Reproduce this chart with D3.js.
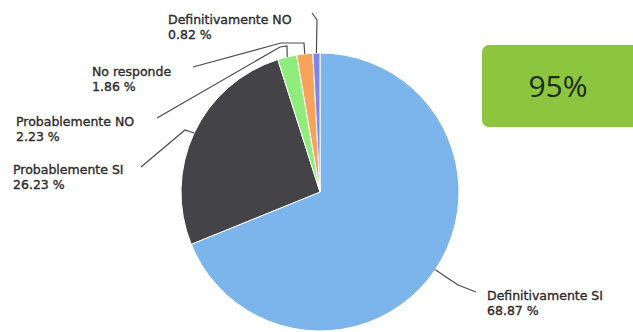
<!DOCTYPE html>
<html>
<head>
<meta charset="utf-8">
<script src="https://cdn.jsdelivr.net/npm/d3@7/dist/d3.min.js"></script>
<style>
  html, body { margin: 0; padding: 0; background: #fff; }
  svg { display: block; }
</style>
</head>
<body>
<svg id="chart"></svg>
<script>
/* ── Data ── */
const categories = ['Definitivamente SI', 'Probablemente SI', 'Probablemente NO', 'No responde', 'Definitivamente NO'];
const shares     = [68.87, 26.23, 2.23, 1.86, 0.82];
const colors     = ['#7cb5ec', '#434348', '#90ed7d', '#f7a35c', '#8085e9'];
const badgeText  = '95%';

/* ── Layout ── */
const W = 633, H = 332;
const CX = 320, CY = 192, R = 139;
const FONT = '"DejaVu Sans", Verdana, sans-serif';

/* label anchor + connector bends after the slice edge point */
const labelLayout = [
  { x: 487, y: 300, bends: [[458, 285], [476, 292]] },
  { x: 13,  y: 174, bends: [[185, 130], [141, 167]] },
  { x: 16,  y: 126, bends: [[287, 46], [280, 47], [157, 118]] },
  { x: 92,  y: 76,  bends: [[304, 43], [281, 43], [193, 67]] },
  { x: 168, y: 24,  bends: [[317, 20], [312, 13]] }
];

const svg = d3.select('#chart')
  .attr('width', W)
  .attr('height', H)
  .attr('viewBox', `0 0 ${W} ${H}`);

const pieData = d3.pie().sort(null).value(d => d)(shares);
const arc  = d3.arc().innerRadius(0).outerRadius(R);
const edge = d3.arc().innerRadius(R).outerRadius(R);

const g = svg.append('g').attr('transform', `translate(${CX},${CY})`);

/* ── Slices ── */
g.selectAll('path.slice')
  .data(pieData)
  .join('path')
  .attr('class', 'slice')
  .attr('d', arc)
  .attr('fill', (d, i) => colors[i])
  .attr('stroke', '#fff')
  .attr('stroke-width', 1);

/* ── Connectors ── */
const line = d3.line().curve(d3.curveLinear);
pieData.forEach((d, i) => {
  const [ex, ey] = edge.centroid(d);
  const pts = [[CX + ex, CY + ey], ...labelLayout[i].bends];
  svg.append('path')
    .attr('d', line(pts))
    .attr('fill', 'none')
    .attr('stroke', '#4a4a4a')
    .attr('stroke-width', 1.2);
});

/* ── Labels ── */
categories.forEach((name, i) => {
  const L = labelLayout[i];
  const t = svg.append('text')
    .attr('x', L.x)
    .attr('y', L.y)
    .attr('fill', '#2b2b2b')
    .attr('stroke', '#2b2b2b')
    .attr('stroke-width', 0.35)
    .attr('font-size', 12.5)
    .attr('font-family', FONT);
  t.append('tspan').attr('x', L.x).text(name);
  t.append('tspan').attr('x', L.x).attr('dy', 15)
    .text(shares[i].toFixed(2) + ' %');
});

/* ── Badge ── */
svg.append('rect')
  .attr('x', 482).attr('y', 45)
  .attr('width', 160).attr('height', 82)
  .attr('rx', 7)
  .attr('fill', '#8cc63f');

svg.append('text')
  .attr('x', 558).attr('y', 97)
  .attr('text-anchor', 'middle')
  .attr('fill', '#1e2a1c')
  .attr('font-size', 30)
  .attr('font-family', '"Open Sans", "Liberation Sans", sans-serif')
  .text(badgeText);
</script>
</body>
</html>
